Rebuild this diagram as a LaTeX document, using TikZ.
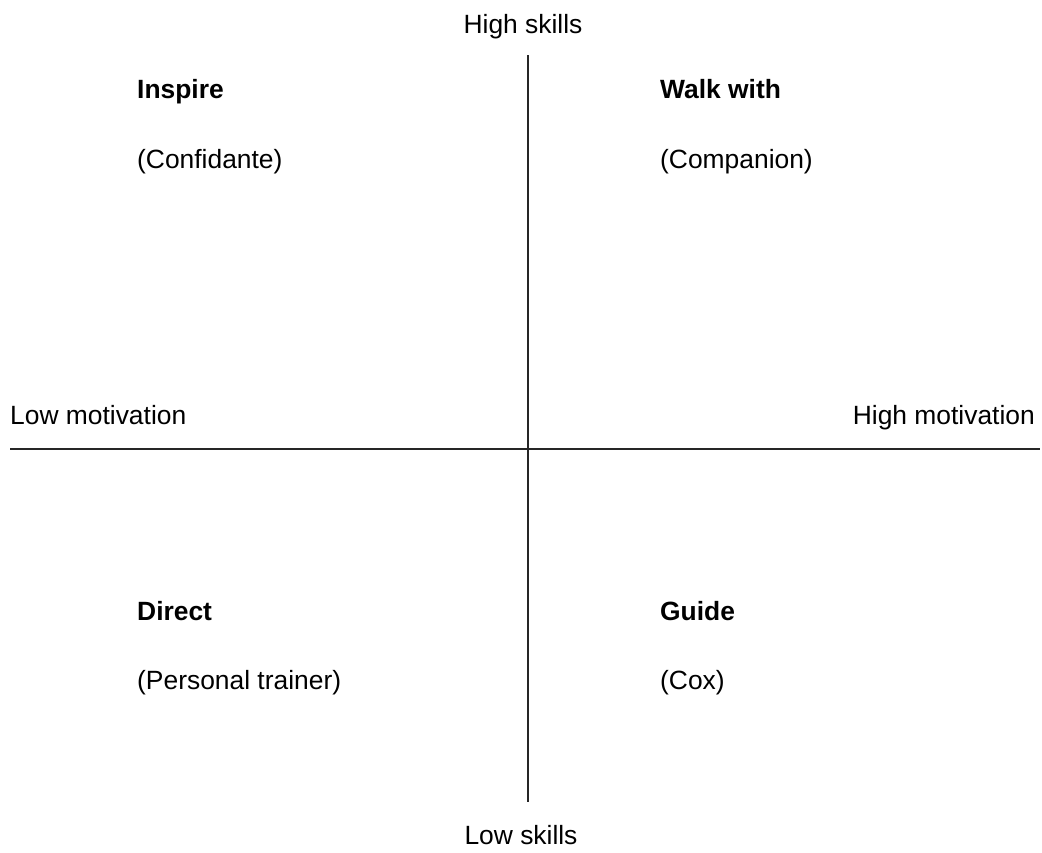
\documentclass[tikz,border=0pt]{standalone}
\usepackage{fontspec}
\setmainfont{Liberation Sans}
\begin{document}
\begin{tikzpicture}[x=1pt,y=-1pt,
  lbl/.style={inner sep=0pt,font=\fontsize{26.4}{30}\selectfont},
  head/.style={lbl,font=\fontsize{26.4}{30}\selectfont\bfseries,anchor=base west},
  sub/.style={lbl,anchor=base west},
  axis/.style={line width=1.3pt,black!85}]
\useasboundingbox (0,0) rectangle (1042,852);
\coordinate (vt) at (528,55);
\coordinate (vb) at (528,802);
\coordinate (hl) at (10,449);
\coordinate (hr) at (1040,449);
\draw[axis] (vt) -- (vb);
\draw[axis] (hl) -- (hr);
\node[lbl,anchor=base] (hs) at (523,33) {High skills};
\node[lbl,anchor=base] (ls) at (521,844) {Low skills};
\node[lbl,anchor=base west] (lm) at (10,424) {Low motivation};
\node[lbl,anchor=base east] (hm) at (1035,424) {High motivation};
\node[head] (q1) at (137,98) {Inspire};
\node[sub] (q1s) at (137,168) {(Confidante)};
\node[head] (q2) at (660,98) {Walk with};
\node[sub] (q2s) at (660,168) {(Companion)};
\node[head] (q3) at (137,620) {Direct};
\node[sub] (q3s) at (137,689) {(Personal trainer)};
\node[head] (q4) at (660,620) {Guide};
\node[sub] (q4s) at (660,689) {(Cox)};
\end{tikzpicture}
\end{document}
